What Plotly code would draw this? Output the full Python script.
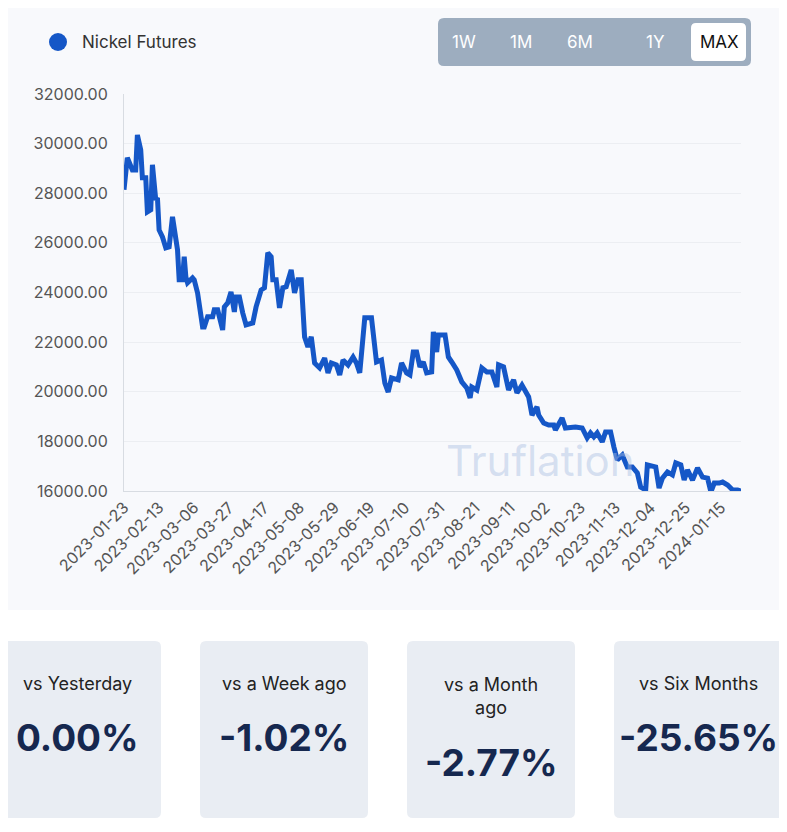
import pandas as pd
import plotly.graph_objects as go

day_offsets = [0,2,5,7,8,10,11,13,14,16,17,19,20,21,23,25,27,29,32,33,35,36,37,38,41,42,44,47,48,50,53,54,56,59,60,62,64,66,67,69,71,73,77,79,82,84,86,88,89,91,93,95,97,100,102,104,106,108,110,112,114,117,120,122,124,127,129,131,134,137,139,141,144,148,151,154,156,158,160,164,166,169,171,173,175,177,179,181,184,185,187,188,192,194,196,199,202,205,207,208,211,214,217,220,223,224,227,230,233,235,238,241,242,244,247,248,251,254,257,258,262,264,267,270,274,277,279,281,283,286,288,291,293,295,298,301,304,307,309,312,313,316,318,320,322,325,328,330,333,335,337,340,343,346,349,351,353,356,358,361,364,367,369]
prices = [28140,29430,28940,28940,30350,29750,28620,28620,27250,27330,29150,27730,27810,26520,26240,25800,25840,27050,25720,24510,24510,25440,24630,24390,24590,24510,23980,22610,22610,23020,23020,23300,23300,22490,23420,23580,24020,23220,23820,23820,23180,22690,22770,23420,24100,24190,25600,25440,24510,24510,23380,24190,24230,24910,23980,24510,24510,22210,21810,22210,21160,20960,21360,20760,21160,21080,20680,21280,21080,21400,21160,20760,22980,22980,21200,21280,20350,19990,20560,20480,21160,20760,20680,21600,21600,21000,21200,20760,20800,22410,21600,22290,22290,21400,21200,20880,20400,20150,19750,20190,20070,20960,20800,20800,20190,21080,21000,20070,20480,19950,20270,19870,19790,19060,19390,19060,18740,18660,18660,18460,18940,18540,18580,18580,18540,18140,18340,18180,18340,17980,18380,18380,17770,17250,17450,16970,16970,16730,16160,16040,17050,16970,16970,16120,16520,16770,16650,17130,17050,16440,16850,16440,16930,16560,16520,15960,16320,16320,16360,16240,16040,16040,16000]
start = pd.Timestamp("2023-01-23")
dates = [start + pd.Timedelta(days=d) for d in day_offsets]
tick_dates = [start + pd.Timedelta(days=21*i) for i in range(18)]
periods = ["1W", "1M", "6M", "1Y", "MAX"]
card_labels = ["vs Yesterday", "vs a Week ago", "vs a Month<br>ago", "vs Six Months"]
card_values = ["0.00%", "-1.02%", "-2.77%", "-25.65%"]

OFF = 8  # page body margin
W, H = 787, 832
L, R, T, B = 124 - OFF, 741 - OFF, 94 - OFF, 491 - OFF
def px(x): return (x - OFF - L) / (R - L)
def py(y): return (B - (y - OFF)) / (B - T)

def rrect(x0, y0, x1, y1, r, color):
    p = (f"M {px(x0+r)},{py(y0)} L {px(x1-r)},{py(y0)} Q {px(x1)},{py(y0)} {px(x1)},{py(y0+r)} "
         f"L {px(x1)},{py(y1-r)} Q {px(x1)},{py(y1)} {px(x1-r)},{py(y1)} L {px(x0+r)},{py(y1)} "
         f"Q {px(x0)},{py(y1)} {px(x0)},{py(y1-r)} L {px(x0)},{py(y0+r)} Q {px(x0)},{py(y0)} {px(x0+r)},{py(y0)} Z")
    return dict(type="path", xref="paper", yref="paper", path=p, fillcolor=color, line_width=0, layer="below")

fig = go.Figure(go.Scatter(x=dates, y=prices, mode="lines",
                           line=dict(color="#1557c7", width=5), showlegend=False,
                           hoverinfo="skip"))
shapes, ann = [], []
shapes.append(dict(type="rect", xref="paper", yref="paper", x0=px(0), x1=px(W + 20), y0=py(610), y1=py(0),
                   fillcolor="#f8f9fc", line_width=0, layer="below"))
shapes.append(dict(type="circle", xref="paper", yref="paper", x0=px(49), x1=px(67), y0=py(51), y1=py(33),
                   fillcolor="#1557c7", line_width=0))
ann.append(dict(x=px(80), y=py(42), xref="paper", yref="paper", text="Nickel Futures", showarrow=False,
                xanchor="left", yanchor="middle", font=dict(size=17, color="#333")))
shapes.append(rrect(438, 18, 751, 66, 6, "#9dadbf"))
shapes.append(rrect(691, 23, 746, 61, 5, "#ffffff"))
for lab, cx in zip(periods, [464, 521, 580, 655, 719]):
    ann.append(dict(x=px(cx), y=py(42), xref="paper", yref="paper", text=lab, showarrow=False,
                    xanchor="center", yanchor="middle",
                    font=dict(size=17, color="#111" if lab == "MAX" else "#ffffff")))
ann.append(dict(x=px(540), y=py(460), xref="paper", yref="paper", text="Truflation", showarrow=False,
                xanchor="center", yanchor="middle",
                font=dict(size=42, color="rgba(170,190,225,0.45)", family="Inter")))
for (x0, x1), lab, val in zip([(-10, 161), (200, 368), (407, 575), (614, 810)], card_labels, card_values):
    shapes.append(rrect(x0, 641, x1, 818, 6, "#e9edf3"))
    cx = {-10: 77, 200: 284, 407: 491, 614: 698}[x0]
    two = "<br>" in lab
    ann.append(dict(x=px(cx), y=py(672 if two else 683), xref="paper", yref="paper", text=lab, showarrow=False,
                    xanchor="center", yanchor="top" if two else "middle",
                    font=dict(size=18, color="#222")))
    ann.append(dict(x=px(cx), y=py(762 if two else 737), xref="paper", yref="paper", text="<b>" + val + "</b>",
                    showarrow=False, xanchor="center", yanchor="middle", font=dict(size=37, color="#16284f")))

fig.update_layout(width=W, height=H, margin=dict(l=L, r=W - R, t=T, b=H - B),
                  paper_bgcolor="#ffffff", plot_bgcolor="rgba(0,0,0,0)",
                  shapes=shapes, annotations=ann, font=dict(family="Inter, Roboto, sans-serif"))
fig.update_xaxes(range=[start, start + pd.Timedelta(days=369)], tickvals=tick_dates,
                 ticktext=[d.strftime("%Y-%m-%d") for d in tick_dates], tickangle=-45,
                 tickfont=dict(size=16, color="#555"), showgrid=False, showline=True,
                 linecolor="#d8dce2", ticks="", zeroline=False)
fig.update_yaxes(range=[16000, 32000], dtick=2000, tickformat=".2f", tickfont=dict(size=16, color="#555"),
                 gridcolor="#eceef2", showline=True, linecolor="#d8dce2", zeroline=False, ticks="",
                 ticklabelstandoff=12)
fig.write_html("out.html")
